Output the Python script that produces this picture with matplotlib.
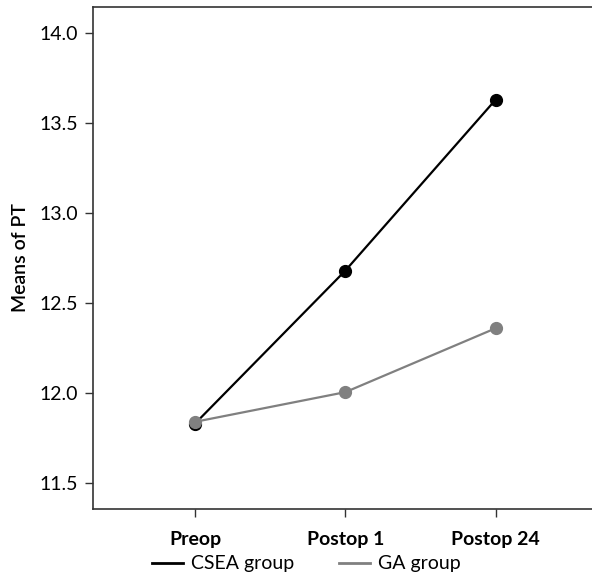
import matplotlib
matplotlib.use("Agg")
import matplotlib.pyplot as plt

categories = ["Preop", "Postop 1", "Postop 24"]
csea = [11.83, 12.68, 13.63]
ga = [11.84, 12.005, 12.36]
yticks = [11.5, 12.0, 12.5, 13.0, 13.5, 14.0]

plt.rcParams['font.family'] = ['Lato', 'DejaVu Sans']

fig = plt.figure(figsize=(5.92, 5.76), dpi=100)
W, H = 592, 576
left, right, top, bottom = 93, 592, 7, 509
ax = fig.add_axes([left / W, 1 - bottom / H, (right - left) / W, (bottom - top) / H])

x = list(range(len(categories)))
ax.plot(x, csea, color='black', lw=1.6, marker='o', ms=8.5, label='CSEA group', zorder=3)
ax.plot(x, ga, color='#808080', lw=1.6, marker='o', ms=8.5, label='GA group', zorder=4)

ax.set_xlim(-0.678, 2.64)
ax.set_ylim(11.356, 14.144)
ax.set_xticks(x)
ax.set_xticklabels(categories, fontsize=14, fontweight='bold')
ax.set_yticks(yticks)
ax.set_yticklabels([f"{v:.1f}" for v in yticks], fontsize=14)
ax.tick_params(axis='both', length=6, width=1, color='#333333', pad=5)
ax.tick_params(axis='x', pad=10)
ax.set_ylabel("Means of PT", fontsize=14, fontweight='semibold', labelpad=7)
for s in ['left', 'top', 'bottom']:
    ax.spines[s].set_color('#333333')
    ax.spines[s].set_linewidth(1.2)
ax.spines['right'].set_visible(False)

leg = fig.legend(loc='center', bbox_to_anchor=(306 / W, 1 - 564 / H), ncol=2,
                 frameon=False, fontsize=14, handlelength=1.6, handletextpad=0.4,
                 columnspacing=2.3, borderpad=0)
for line in leg.get_lines():
    line.set_marker('')
    line.set_linewidth(2)

fig.savefig("out.png", dpi=100)
